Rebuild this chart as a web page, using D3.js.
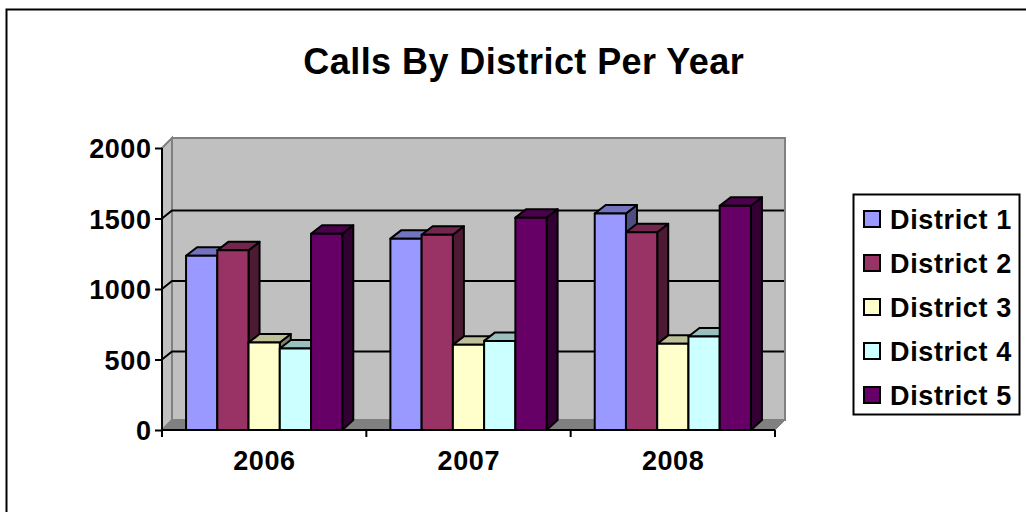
<!DOCTYPE html>
<html>
<head>
<meta charset="utf-8">
<script src="https://cdn.jsdelivr.net/npm/d3@7/dist/d3.min.js"></script>
<style>
  html, body { margin: 0; padding: 0; background: #fff; }
  text { font-family: "Liberation Sans", Arial, sans-serif; font-weight: bold; fill: #000; }
</style>
</head>
<body>
<div id="chart"></div>
<script>
const years = ['2006', '2007', '2008'];
const districts = ['District 1', 'District 2', 'District 3', 'District 4', 'District 5'];
const district1 = [1236, 1357, 1535];
const district2 = [1274, 1385, 1402];
const district3 = [620, 604, 611];
const district4 = [578, 632, 663];
const district5 = [1392, 1506, 1591];
const seriesValues = [district1, district2, district3, district4, district5];
const colors = ['#9999ff', '#993366', '#ffffcc', '#ccffff', '#660066'];
const yTicks = [0, 500, 1000, 1500, 2000];

const width = 1026;
const height = 512;
const plot = { left: 162, right: 775, top: 148, bottom: 430 };
const depth = { x: 10, y: 10 };
const gridDepth = 8;
const barDepth = { x: 11, y: 8.5 };

const svg = d3
  .select('#chart')
  .append('svg')
  .attr('width', width)
  .attr('height', height)
  .style('display', 'block');

// the original text is spaced a bit wider than Liberation Sans at the same height
const spread = (sel, k) => {
  sel.each(function spreadText() {
    d3.select(this)
      .attr('textLength', this.getComputedTextLength() * k)
      .attr('lengthAdjust', 'spacing');
  });
};

// outer chart frame
svg
  .append('rect')
  .attr('x', 6.5)
  .attr('y', 9.5)
  .attr('width', 1030)
  .attr('height', 520)
  .attr('fill', '#fff')
  .attr('stroke', '#000')
  .attr('stroke-width', 2);

svg
  .append('text')
  .attr('x', 523.5)
  .attr('y', 74)
  .attr('text-anchor', 'middle')
  .style('font-size', '36px')
  .text('Calls By District Per Year')
  .call(spread, 1.025);

const x0 = d3.scaleBand().domain(years).range([plot.left, plot.right]);
const x1 = d3
  .scaleBand()
  .domain(districts)
  .range([0, x0.bandwidth()])
  .paddingOuter(0.77)
  .paddingInner(0);
const y = d3.scaleLinear().domain([0, 2000]).range([plot.bottom, plot.top]);

const poly = (pts) => pts.map((p) => p.join(',')).join(' ');

// walls and floor
const backL = plot.left + depth.x;
const backR = plot.right + depth.x;
svg
  .append('polygon')
  .attr('points', poly([
    [backL, y(2000) - depth.y],
    [backR, y(2000) - depth.y],
    [backR, y(0) - depth.y],
    [backL, y(0) - depth.y],
  ]))
  .attr('fill', '#c0c0c0')
  .attr('stroke', '#808080')
  .attr('stroke-width', 2);
svg
  .append('polygon')
  .attr('points', poly([
    [plot.left, y(2000)],
    [backL, y(2000) - depth.y],
    [backL, y(0) - depth.y],
    [plot.left, y(0)],
  ]))
  .attr('fill', '#c0c0c0')
  .attr('stroke', '#808080')
  .attr('stroke-width', 2);
svg
  .append('polygon')
  .attr('points', poly([
    [plot.left, y(0)],
    [backL, y(0) - depth.y],
    [backR, y(0) - depth.y],
    [plot.right, y(0)],
  ]))
  .attr('fill', '#808080')
  .attr('stroke', '#808080');

// gridlines on the back and left walls
yTicks.filter((t) => t > 0 && t < 2000).forEach((t) => {
  svg
    .append('polyline')
    .attr('points', poly([
      [plot.left, y(t)],
      [backL, y(t) - gridDepth],
      [backR - 1, y(t) - gridDepth],
    ]))
    .attr('fill', 'none')
    .attr('stroke', '#000')
    .attr('stroke-width', 2);
});

// bars, left to right so that each one overlaps the side of the previous
const shade = (c, k) => {
  const { r, g, b } = d3.rgb(c);
  return d3.rgb(r * k, g * k, b * k).formatHex();
};
years.forEach((year, yi) => {
  const g = svg.append('g').attr('class', 'year');
  districts.forEach((name, si) => {
    const v = seriesValues[si][yi];
    const l = x0(year) + x1(name);
    const r = l + x1.bandwidth();
    const t = y(v);
    const b = y(0);
    const dx = barDepth.x;
    const dy = barDepth.y;
    const bar = g.append('g').attr('stroke', '#000').attr('stroke-width', 2).attr('stroke-linejoin', 'round');
    bar
      .append('polygon')
      .attr('points', poly([[r, t], [r + dx, t - dy], [r + dx, b - depth.y], [r, b]]))
      .attr('fill', shade(colors[si], 0.5));
    bar
      .append('polygon')
      .attr('points', poly([[l, t], [l + dx, t - dy], [r + dx, t - dy], [r, t]]))
      .attr('fill', shade(colors[si], 0.75));
    bar
      .append('rect')
      .attr('x', l)
      .attr('y', t)
      .attr('width', r - l)
      .attr('height', b - t)
      .attr('fill', colors[si]);
  });
});

// axes
const yAxis = svg
  .append('g')
  .attr('transform', `translate(${plot.left},0)`)
  .call(d3.axisLeft(y).tickValues(yTicks).tickSize(7).tickPadding(4).tickFormat(d3.format('d')));
yAxis.selectAll('path, line').attr('stroke', '#000').attr('stroke-width', 2);
yAxis.select('.domain').attr('d', `M0,${y(2000)}V${y(0)}`);
yAxis.selectAll('text')
  .style('font-size', '27px')
  .style('font-family', '"Liberation Sans", Arial, sans-serif')
  .attr('dy', '0.36em')
  .call(spread, 1.03);

const xAxis = svg
  .append('g')
  .attr('transform', `translate(0,${plot.bottom})`)
  .call(d3.axisBottom(x0).tickSize(0).tickPadding(21));
xAxis.select('.domain').attr('d', `M${plot.left},0H${plot.right}`).attr('stroke', '#000').attr('stroke-width', 2);
xAxis.selectAll('text')
  .style('font-size', '27px')
  .style('font-family', '"Liberation Sans", Arial, sans-serif')
  .attr('dy', '0.71em')
  .call(spread, 1.03);
xAxis
  .selectAll('.sep')
  .data([...years.map((d) => x0(d)), plot.right])
  .enter()
  .append('line')
  .attr('class', 'sep')
  .attr('x1', (d) => d)
  .attr('x2', (d) => d)
  .attr('y1', 0)
  .attr('y2', 7)
  .attr('stroke', '#000')
  .attr('stroke-width', 2);

// legend
const legendRow = d3.scalePoint().domain(districts).range([220, 396]);
svg
  .append('rect')
  .attr('x', 853.5)
  .attr('y', 194.5)
  .attr('width', 166)
  .attr('height', 220)
  .attr('fill', '#fff')
  .attr('stroke', '#000')
  .attr('stroke-width', 2);
const legend = svg
  .selectAll('.legend')
  .data(districts)
  .enter()
  .append('g')
  .attr('class', 'legend')
  .attr('transform', (d) => `translate(0,${legendRow(d)})`);
legend
  .append('rect')
  .attr('x', 864)
  .attr('y', -9)
  .attr('width', 16)
  .attr('height', 16)
  .attr('fill', (d, i) => colors[i])
  .attr('stroke', '#000')
  .attr('stroke-width', 2);
legend
  .append('text')
  .attr('x', 890)
  .attr('y', 9)
  .style('font-size', '27px')
  .text((d) => d)
  .call(spread, 1.05);
</script>
</body>
</html>
